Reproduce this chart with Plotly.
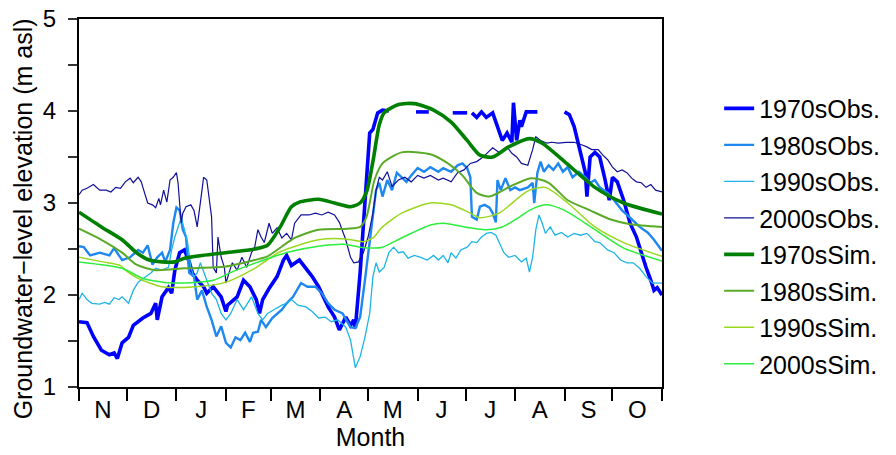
import plotly.graph_objects as go

# ---- axis definitions ----
MONTH_LABELS = ["N", "D", "J", "F", "M", "A", "M", "J", "J", "A", "S", "O"]
MONTH_DAYS = [30, 31, 31, 28, 31, 30, 31, 30, 31, 31, 30, 31]
Y_TITLE = "Groundwater\u2212level elevation (m asl)"
X_TITLE = "Month"

# ---- observed series (day of water year, m asl); None marks a gap ----
OBS70_DAY = [0, 5, 9, 14, 19, 22, 24, 27, 31, 34, 40, 45, 48, 49, 52, 56, 58, 60, 63, 66, 69, 71, 74, 78, 80, 84, 89, 92,
             93, 99, 103, 107, 111, 113, 115, 119, 124, 128, 130, 133, 138, 142, 146, 150, 156, 160, 163, 167, 170, 172,
             173, 176, 179, 182, 184, 187, 190, 194, 202,
             211, 219, 226,
             234, 243, 244.5,
             246, 249, 252, 255, 259, 263, 265, 268, 271, 272, 274, 276, 277, 280, 287, 295,
             304, 307, 310, 313, 317, 318, 320, 323, 326, 329, 332, 334, 337, 341, 345, 349, 352, 355, 358, 360, 362, 365]
OBS70_VAL = [1.71, 1.70, 1.55, 1.40, 1.35, 1.37, 1.31, 1.48, 1.54, 1.67, 1.75, 1.80, 1.91, 1.73, 1.98, 2.08, 2.02, 2.27,
             2.46, 2.49, 2.36, 2.24, 2.16, 2.09, 2.02, 2.09, 1.98, 1.82,
             1.89, 1.98, 2.16, 2.09, 1.95, 1.80, 1.95, 2.07, 2.20, 2.38, 2.43, 2.32, 2.38, 2.29, 2.20, 2.09, 1.87, 1.76,
             1.62, 1.76, 1.67, 1.73,
             1.64, 2.24, 3.00, 3.76, 3.80, 3.98, 4.01, 4.00, None,
             3.99, 3.99, None,
             3.98, 3.98, None,
             3.98, 3.93, 3.99, 3.93, 3.98, 3.76, 3.68, 3.76, 3.66, 4.09, 3.68, 3.90, 3.83, 3.99, 3.99, None,
             3.99, 3.96, 3.83, 3.61, 3.33, 3.07, 3.50, 3.55, 3.50, 3.28, 3.03, 3.28, 3.23, 3.03, 2.78, 2.63, 2.46, 2.30,
             2.16, 2.05, 2.08, 2.00]

OBS80_DAY = [0, 3, 7, 13, 19, 22, 25, 27, 32, 37, 40, 43, 46, 49, 52, 54, 57, 59, 61, 63, 65, 67, 69, 72, 74, 77, 80,
             83, 86, 89, 92, 95, 98, 101, 104, 107, 109, 112, 114, 117, 121, 124, 127, 130, 134, 139, 143, 148, 152,
             156, 160, 165, 170, 173, 176, 179, 182, 186, 188, 190, 193, 196, 199, 202, 205, 208, 212, 216, 220, 225,
             228, 233, 237, 240, 243, 245, 246, 249, 251, 254, 257, 259, 261, 262, 264, 267, 270, 273, 276, 281, 284,
             285, 287, 289, 291, 294, 297, 300, 303, 306, 309, 313, 317, 320, 323, 326, 331, 335, 340, 345, 351, 356,
             360, 365]
OBS80_VAL = [2.53, 2.52, 2.43, 2.46, 2.43, 2.51, 2.43, 2.38, 2.41, 2.49, 2.46, 2.54, 2.33, 2.41, 2.46, 2.36, 2.49,
             2.78, 2.95, 2.92, 2.71, 2.63, 2.24, 2.20, 1.95, 2.05, 1.87, 1.73, 1.55, 1.66, 1.48, 1.43, 1.54, 1.51,
             1.59, 1.49, 1.59, 1.60, 1.73, 1.65, 1.75, 1.80, 1.84, 1.91, 1.98, 2.13, 2.09, 2.09, 2.02, 1.91, 1.84,
             1.80, 1.65, 1.64, 1.76, 2.16, 2.60, 3.14, 3.22, 3.07, 3.25, 3.14, 3.33, 3.28, 3.23, 3.30, 3.38, 3.34,
             3.39, 3.34, 3.38, 3.34, 3.41, 3.43, 3.38, 3.28, 2.85, 2.82, 2.96, 2.98, 2.95, 2.89, 2.79, 3.25, 3.14,
             3.27, 3.14, 3.17, 3.14, 3.17, 3.22, 3.00, 3.33, 3.45, 3.34, 3.41, 3.36, 3.43, 3.34, 3.39, 3.28, 3.34,
             3.28, 3.22, 3.25, 3.17, 3.11, 3.03, 2.92, 2.84, 2.74, 2.68, 2.60, 2.48]

OBS90_DAY = [0, 2, 5, 8, 13, 16, 19, 22, 25, 27, 31, 34, 37, 42, 45, 48, 52, 56, 58, 60, 62, 64, 66, 68, 70, 72, 74,
             76, 80, 83, 86, 89, 92, 95, 99, 103, 108, 112, 115, 118, 122, 127, 130, 133, 137, 142, 146, 150, 154,
             158, 162, 167, 170, 172, 173, 176, 179, 182, 184, 186, 188, 191, 194, 197, 200, 203, 206, 210, 214, 218,
             222, 225, 228, 231, 233, 236, 239, 243, 246, 249, 252, 255, 258, 261, 263, 266, 269, 273, 277, 280, 282,
             284, 286, 288, 290, 292, 295, 298, 302, 306, 310, 314, 318, 323, 326, 331, 335, 339, 343, 347, 351, 355,
             359, 365]
OBS90_VAL = [1.95, 2.02, 1.95, 1.91, 1.90, 1.92, 1.90, 1.97, 1.95, 1.98, 1.91, 2.05, 2.14, 2.20, 2.24, 2.29, 2.27,
             2.30, 2.49, 2.63, 2.74, 2.84, 2.71, 2.57, 2.30, 2.20, 2.24, 2.35, 2.16, 2.02, 1.95, 1.80, 1.73, 1.80,
             1.95, 1.84, 1.98, 1.80, 1.73, 1.80, 1.84, 1.89, 1.91, 1.95, 1.89, 1.87, 1.82, 1.75, 1.76, 1.71, 1.73,
             1.65, 1.51, 1.29, 1.21, 1.33, 1.54, 1.80, 2.20, 2.35, 2.25, 2.30, 2.46, 2.52, 2.46, 2.47, 2.40, 2.43,
             2.41, 2.38, 2.43, 2.38, 2.43, 2.35, 2.46, 2.40, 2.49, 2.52, 2.58, 2.57, 2.63, 2.67, 2.68, 2.65, 2.57,
             2.46, 2.41, 2.43, 2.36, 2.40, 2.25, 2.41, 2.71, 2.87, 2.78, 2.67, 2.74, 2.65, 2.68, 2.63, 2.67, 2.65,
             2.67, 2.58, 2.57, 2.49, 2.46, 2.38, 2.35, 2.35, 2.29, 2.20, 2.13, 2.13]

OBS00_DAY = [0, 2, 5, 9, 13, 17, 20, 23, 26, 29, 32, 34, 37, 39, 40, 43, 46, 48, 50, 51, 53, 55, 57, 59, 61, 62, 64,
             65, 67, 70, 72, 74, 77, 78, 80, 83, 84, 86, 87, 89, 91, 92, 95, 96, 99, 102, 105, 108, 110, 112, 114,
             116, 119, 121, 124, 127, 130, 133, 135, 139, 144, 148, 152, 156, 160, 163, 167, 170, 172, 175, 178, 181,
             184, 186, 188, 190, 193, 196, 200, 204, 208, 212, 216, 220, 225, 228, 233, 237, 241, 245, 249, 253, 256,
             259, 263, 268, 271, 274, 277, 281, 284, 286, 289, 293, 296, 300, 305, 310, 315, 318, 321, 325, 328, 331,
             334, 337, 340, 343, 346, 349, 352, 355, 358, 361, 365]
OBS00_VAL = [3.09, 3.14, 3.16, 3.20, 3.14, 3.14, 3.12, 3.17, 3.16, 3.23, 3.27, 3.22, 3.28, 3.23, 3.17, 3.00, 2.98,
             2.95, 3.05, 2.98, 3.14, 3.01, 3.25, 3.28, 3.33, 3.22, 2.78, 2.89, 2.96, 2.98, 2.92, 2.74, 3.14, 3.28,
             3.25, 2.85, 2.30, 2.24, 2.63, 2.41, 2.30, 2.13, 2.30, 2.35, 2.27, 2.41, 2.30, 2.46, 2.52, 2.71, 2.63,
             2.57, 2.78, 2.67, 2.73, 2.62, 2.67, 2.60, 2.78, 2.87, 2.87, 2.89, 2.87, 2.90, 2.87, 2.79, 2.60, 2.41,
             2.35, 2.36, 2.46, 2.63, 2.89, 3.14, 3.28, 3.25, 3.34, 3.18, 3.25, 3.28, 3.23, 3.30, 3.27, 3.30, 3.25,
             3.27, 3.23, 3.33, 3.36, 3.43, 3.45, 3.50, 3.55, 3.60, 3.55, 3.61, 3.54, 3.50, 3.43, 3.41, 3.58, 3.72,
             3.68, 3.65, 3.66, 3.65, 3.66, 3.66, 3.63, 3.61, 3.58, 3.58, 3.52, 3.47, 3.39, 3.34, 3.36, 3.33, 3.27,
             3.23, 3.22, 3.17, 3.20, 3.14, 3.12]

# ---- simulated series ----
SIM70_DAY = [0, 14, 27, 36, 44, 52, 60, 66, 77, 97, 110, 118, 126, 133, 138, 150, 160, 170, 176, 180, 184, 188, 191,
             200, 210, 222, 233, 243, 251, 259, 269, 282, 290, 304, 323, 341, 365]
SIM70_VAL = [2.90, 2.74, 2.60, 2.46, 2.38, 2.36, 2.36, 2.40, 2.43, 2.47, 2.50, 2.54, 2.74, 2.96, 3.01, 3.04, 3.00,
             2.96, 3.00, 3.12, 3.45, 3.85, 3.98, 4.07, 4.08, 4.01, 3.88, 3.68, 3.52, 3.50, 3.61, 3.70, 3.65, 3.45,
             3.17, 3.00, 2.88]

SIM80_DAY = [0, 14, 27, 36, 48, 66, 92, 110, 118, 135, 150, 168, 176, 180, 185, 190, 202, 220, 231, 240, 249, 257,
             270, 283, 294, 306, 320, 333, 345, 365]
SIM80_VAL = [2.72, 2.60, 2.46, 2.33, 2.27, 2.29, 2.31, 2.38, 2.42, 2.62, 2.71, 2.72, 2.74, 2.85, 3.25, 3.43, 3.55,
             3.53, 3.43, 3.30, 3.11, 3.07, 3.18, 3.27, 3.22, 3.03, 2.92, 2.82, 2.77, 2.74]

SIM90_DAY = [0, 15, 26, 29, 37, 52, 73, 92, 110, 126, 150, 167, 178, 184, 190, 202, 220, 233, 245, 251, 263, 276,
             282, 292, 306, 323, 341, 365]
SIM90_VAL = [2.41, 2.36, 2.32, 2.27, 2.18, 2.09, 2.09, 2.14, 2.29, 2.47, 2.60, 2.61, 2.58, 2.62, 2.74, 2.89, 3.00,
             2.98, 2.89, 2.84, 2.89, 3.07, 3.14, 3.17, 3.00, 2.74, 2.57, 2.42]

SIM00_DAY = [0, 27, 40, 60, 84, 97, 119, 132, 150, 167, 176, 185, 190, 202, 220, 228, 245, 255, 265, 276, 282, 292,
             304, 323, 341, 365]
SIM00_VAL = [2.36, 2.29, 2.18, 2.13, 2.16, 2.26, 2.40, 2.47, 2.53, 2.55, 2.52, 2.51, 2.52, 2.62, 2.76, 2.78, 2.73,
             2.71, 2.74, 2.85, 2.92, 2.98, 2.92, 2.71, 2.51, 2.37]

SERIES = [
    ("1970sObs.", OBS70_DAY, OBS70_VAL, "#0000ff", 3.6, "linear"),
    ("1980sObs.", OBS80_DAY, OBS80_VAL, "#1e88f0", 2.4, "linear"),
    ("1990sObs.", OBS90_DAY, OBS90_VAL, "#1eb4e6", 1.3, "linear"),
    ("2000sObs.", OBS00_DAY, OBS00_VAL, "#10109a", 1.2, "linear"),
    ("1970sSim.", SIM70_DAY, SIM70_VAL, "#008000", 3.6, "spline"),
    ("1980sSim.", SIM80_DAY, SIM80_VAL, "#5aaa28", 2.0, "spline"),
    ("1990sSim.", SIM90_DAY, SIM90_VAL, "#9ad81e", 1.5, "spline"),
    ("2000sSim.", SIM00_DAY, SIM00_VAL, "#2cee3c", 1.5, "spline"),
]

fig = go.Figure()
for name, xs, ys, color, width, shape in SERIES:
    line = dict(color=color, width=width, shape=shape)
    if shape == "spline":
        line["smoothing"] = 0.7
    fig.add_trace(go.Scatter(x=xs, y=ys, mode="lines", name=name, line=line,
                             legendgroup=name, connectgaps=False))

# month boundaries and centres
bounds = [0]
for d in MONTH_DAYS:
    bounds.append(bounds[-1] + d)
centres = [(bounds[i] + bounds[i + 1]) / 2 for i in range(len(MONTH_DAYS))]

FONT = "Arial, Liberation Sans, sans-serif"
# the page adds an 8 px body margin, so the figure is 8 px smaller
fig.update_layout(
    width=888, height=447,
    margin=dict(l=71, r=212, t=11, b=68),
    paper_bgcolor="white", plot_bgcolor="white",
    font=dict(family=FONT, size=23, color="black"),
    showlegend=True,
    legend=dict(x=1.098, xanchor="left", y=0.41, yanchor="middle",
                font=dict(family=FONT, size=25, color="black"),
                bgcolor="rgba(0,0,0,0)", borderwidth=0, tracegroupgap=1),
    xaxis=dict(
        range=[0, 365], automargin=False,
        tickmode="array", tickvals=centres, ticktext=MONTH_LABELS,
        ticks="", showgrid=False, zeroline=False,
        showline=True, linecolor="black", linewidth=2, mirror=True,
        tickfont=dict(size=24), ticklabeloverflow="allow",
        minor=dict(tickmode="array", tickvals=bounds, ticks="outside",
                   ticklen=12, tickwidth=2, tickcolor="black", showgrid=False),
        title=dict(text=X_TITLE, font=dict(size=25), standoff=4),
    ),
    yaxis=dict(
        range=[1, 5], automargin=False,
        tickmode="array", tickvals=[1, 2, 3, 4, 5],
        ticks="outside", ticklen=9, tickwidth=1.5, tickcolor="#333",
        ticklabelstandoff=7, ticklabeloverflow="allow",
        showgrid=False, zeroline=False,
        showline=True, linecolor="black", linewidth=2, mirror=True,
        tickfont=dict(size=24),
        minor=dict(tickmode="array", tickvals=[1.5, 2.5, 3.5, 4.5], ticks="outside",
                   ticklen=9, tickwidth=1.5, tickcolor="#333", showgrid=False),
    ),
    annotations=[dict(text=Y_TITLE, textangle=-90, xref="paper", yref="paper",
                      x=-0.0955, y=0.4565, xanchor="center", yanchor="middle",
                      showarrow=False, font=dict(family=FONT, size=25, color="black"))],
)

fig.write_html("out.html")
